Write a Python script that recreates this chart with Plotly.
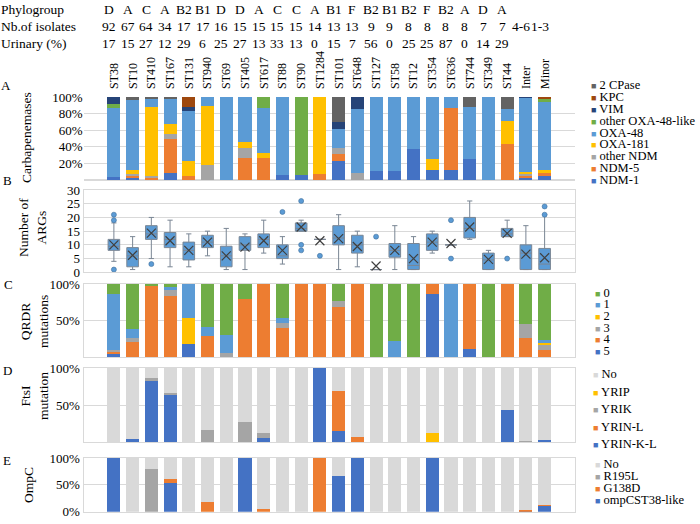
import plotly.graph_objects as go

# ---------------- data ----------------
categories = ["ST38", "ST10", "ST410", "ST167", "ST131", "ST940", "ST69", "ST405", "ST617", "ST88",
              "ST90", "ST1284", "ST101", "ST648", "ST127", "ST58", "ST12", "ST354", "ST636", "ST744",
              "ST349", "ST44", "Inter", "Minor"]

phylogroup = ["D", "A", "C", "A", "B2", "B1", "D", "D", "A", "C", "C", "A", "B1", "F", "B2", "B1", "B2",
              "F", "B2", "A", "D", "A", "", ""]
n_isolates = ["92", "67", "64", "34", "17", "17", "16", "15", "15", "15", "15", "14", "13", "13", "9", "9",
              "8", "8", "8", "8", "7", "7", "4-6", "1-3"]
urinary_pct = ["17", "15", "27", "12", "29", "6", "25", "27", "13", "33", "13", "0", "15", "7", "56", "0",
               "25", "25", "87", "0", "14", "29", "", ""]

# A: carbapenemases (% of isolates), bottom -> top
ndm1 = [4, 2, 0, 8, 0, 0, 0, 0, 0, 6, 6, 0, 23, 0, 11, 11, 37, 12, 12, 25, 0, 0, 2, 5]
ndm5 = [0, 3, 3, 42, 5, 0, 0, 26, 26, 0, 0, 7, 8, 0, 0, 0, 0, 0, 75, 0, 0, 43, 3, 3]
other_ndm = [0, 2, 2, 6, 0, 18, 0, 13, 0, 0, 0, 0, 8, 8, 0, 0, 0, 0, 0, 0, 0, 0, 2, 0]
oxa181 = [0, 5, 83, 11, 18, 71, 0, 7, 7, 0, 0, 93, 0, 0, 0, 0, 0, 13, 0, 0, 0, 28, 3, 4]
oxa48 = [83, 84, 10, 30, 60, 11, 100, 54, 54, 94, 0, 0, 23, 77, 89, 89, 63, 75, 13, 63, 100, 15, 89, 82]
other_oxa48 = [5, 0, 0, 0, 0, 0, 0, 0, 13, 0, 94, 0, 0, 0, 0, 0, 0, 0, 0, 0, 0, 0, 0, 3]
vim = [8, 0, 0, 0, 5, 0, 0, 0, 0, 0, 0, 0, 8, 15, 0, 0, 0, 0, 0, 0, 0, 0, 1, 0]
kpc = [0, 0, 0, 0, 12, 0, 0, 0, 0, 0, 0, 0, 0, 0, 0, 0, 0, 0, 0, 0, 0, 0, 0, 3]
two_cpase = [0, 4, 2, 3, 0, 0, 0, 0, 0, 0, 0, 0, 30, 0, 0, 0, 0, 0, 0, 12, 0, 14, 0, 0]

# B: number of ARGs (box statistics)
arg_q1 = [8, 2, 12, 9, 4.5, 9, 2, 8, 9, 5, 15, 12, 10, 7, 1, 5.5, 1, 8, 10, 12.5, 1, 13, 1, 1]
arg_median = [9.5, 6, 14, 12, 8, 11, 6, 10, 12, 6, 16, 12, 12.5, 10, 1, 8, 2.5, 11, 10, 16, 4.5, 14, 7, 3]
arg_q3 = [12, 9, 17, 14.5, 11, 13.5, 9.5, 13, 14, 10, 18, 12, 17, 13.5, 1, 10.5, 10.5, 14, 10, 20, 7, 16, 10, 8.7]
arg_low = [4, 1, 5, 2, 2, 6, 1, 1, 7, 3, 15, 12, 1, 2, 1, 1, 1, 7, 10, 12, 1, 13, 1, 1]
arg_high = [18, 13, 20, 19, 14, 15, 16, 14, 19, 13, 19, 12, 21, 15, 1, 17, 13, 15, 10, 26, 8, 19, 17, 21]
arg_mean = [10, 6.2, 14.3, 11.5, 8, 11, 6, 9.2, 11.5, 8, 16.5, 11.5, 12.3, 9.4, 2.3, 8, 5, 11, 10.5, 16.5,
            4.7, 14.2, 6.6, 5.3]
arg_outliers = {"ST38": [21, 19, 1], "ST410": [3], "ST88": [22], "ST90": [26, 10, 8], "ST1284": [6],
                "ST127": [13], "ST636": [19, 5], "ST44": [5], "Minor": [24, 21]}

# C: QRDR mutations (%), bottom -> top: 5,4,3,2,1,0
qrdr5 = [5, 0, 0, 0, 18, 0, 0, 0, 0, 0, 0, 0, 0, 0, 0, 0, 0, 87, 0, 12, 0, 0, 0, 0]
qrdr4 = [3, 21, 98, 83, 0, 29, 0, 80, 100, 40, 100, 100, 69, 100, 0, 0, 0, 13, 0, 88, 0, 100, 27, 10]
qrdr3 = [2, 5, 0, 9, 0, 0, 6, 0, 0, 7, 0, 0, 8, 0, 0, 0, 0, 0, 0, 0, 0, 0, 18, 8]
qrdr2 = [0, 0, 0, 0, 35, 0, 0, 0, 0, 0, 0, 0, 0, 0, 0, 0, 0, 0, 0, 0, 0, 0, 0, 1]
qrdr1 = [77, 13, 0, 4, 47, 12, 25, 0, 0, 7, 0, 0, 0, 0, 0, 22, 0, 0, 100, 0, 0, 0, 0, 5]
qrdr0 = [13, 61, 2, 4, 0, 59, 69, 20, 0, 46, 0, 0, 23, 0, 100, 78, 100, 0, 0, 0, 100, 0, 55, 76]

# D: FtsI mutation (%), bottom -> top
ftsi_yrinkl = [0, 5, 83, 64, 0, 0, 0, 0, 6, 0, 0, 100, 15, 0, 0, 0, 0, 0, 0, 0, 0, 43, 1, 3]
ftsi_yrinl = [0, 0, 0, 0, 0, 0, 0, 0, 0, 0, 0, 0, 54, 7, 0, 0, 0, 0, 0, 0, 0, 0, 0, 0]
ftsi_yrik = [0, 0, 4, 2, 0, 17, 0, 27, 6, 0, 0, 0, 0, 0, 0, 0, 0, 0, 0, 0, 0, 0, 1, 0]
ftsi_yrip = [0, 0, 0, 0, 0, 0, 0, 0, 0, 0, 0, 0, 0, 0, 0, 0, 0, 12, 0, 0, 0, 0, 0, 0]
ftsi_no = [100, 95, 13, 34, 100, 83, 100, 73, 88, 100, 100, 0, 31, 93, 100, 100, 100, 88, 100, 100, 100, 57, 98, 97]

# E: OmpC (%), bottom -> top
ompc_st38 = [100, 0, 0, 53, 0, 0, 0, 100, 0, 0, 0, 0, 66, 100, 0, 0, 0, 100, 0, 0, 0, 0, 1, 11]
ompc_g138d = [0, 0, 0, 8, 0, 18, 0, 0, 5, 0, 0, 100, 0, 0, 0, 0, 0, 0, 0, 0, 0, 0, 2, 2]
ompc_r195l = [0, 0, 79, 0, 0, 0, 0, 0, 0, 0, 0, 0, 0, 0, 0, 0, 0, 0, 0, 0, 0, 0, 0, 0]
ompc_no = [0, 100, 21, 39, 100, 82, 100, 0, 95, 100, 100, 0, 34, 0, 100, 100, 100, 0, 100, 100, 100, 100, 97, 87]

# ---------------- styling ----------------
W, H = 700, 524
FONT = "Liberation Serif, Times New Roman, serif"
BLUE, ORANGE, GREY, GOLD, LBLUE, GREEN = "#4472C4", "#ED7D31", "#A5A5A5", "#FFC000", "#5B9BD5", "#70AD47"
NAVY, BROWN, DGREY, LGREY = "#264478", "#9E480E", "#636363", "#D9D9D9"
GRID = "#D9D9D9"


def py(p):
    return 1 - p / H


def px(p):
    return p / W


fig = go.Figure()

panels = [
    ("x", "y", [("NDM-1", ndm1, BLUE), ("NDM-5", ndm5, ORANGE), ("other NDM", other_ndm, GREY),
                ("OXA-181", oxa181, GOLD), ("OXA-48", oxa48, LBLUE), ("other OXA-48-like", other_oxa48, GREEN),
                ("VIM", vim, NAVY), ("KPC", kpc, BROWN), ("2 CPase", two_cpase, DGREY)]),
    ("x3", "y3", [("5", qrdr5, BLUE), ("4", qrdr4, ORANGE), ("3", qrdr3, GREY), ("2", qrdr2, GOLD),
                  ("1", qrdr1, LBLUE), ("0", qrdr0, GREEN)]),
    ("x4", "y4", [("YRIN-K-L", ftsi_yrinkl, BLUE), ("YRIN-L", ftsi_yrinl, ORANGE), ("YRIK", ftsi_yrik, GREY),
                  ("YRIP", ftsi_yrip, GOLD), ("No", ftsi_no, LGREY)]),
    ("x5", "y5", [("ompCST38-like", ompc_st38, BLUE), ("G138D", ompc_g138d, ORANGE), ("R195L", ompc_r195l, GREY),
                  ("No", ompc_no, LGREY)]),
]

for xa, ya, series in panels:
    for name, vals, col in series:
        fig.add_trace(go.Bar(x=categories, y=vals, name=name, marker=dict(color=col, line=dict(width=0)),
                             xaxis=xa, yaxis=ya, showlegend=False))

# B: box plots
fig.add_trace(go.Box(x=categories, q1=arg_q1, median=arg_median, q3=arg_q3, lowerfence=arg_low,
                     upperfence=arg_high, xaxis="x2", yaxis="y2", fillcolor=LBLUE,
                     line=dict(color="#7A8694", width=1), width=0.62, whiskerwidth=0.45,
                     boxpoints=False, showlegend=False))
fig.add_trace(go.Scatter(x=categories, y=arg_mean, mode="markers", xaxis="x2", yaxis="y2",
                         marker=dict(symbol="x-thin-open", size=9, color="#404040",
                                     line=dict(color="#404040", width=1.2)),
                         showlegend=False))
out_x = [c for c in categories for _ in arg_outliers.get(c, [])]
out_y = [v for c in categories for v in arg_outliers.get(c, [])]
fig.add_trace(go.Scatter(x=out_x, y=out_y, mode="markers", xaxis="x2", yaxis="y2",
                         marker=dict(symbol="circle", size=5, color=LBLUE, line=dict(color="#41719C", width=0.6)),
                         showlegend=False))

# ---------------- axes ----------------
xdom = [px(83.5), px(575)]
tickfont = dict(family=FONT, size=13, color="#000")
layout_axes = {}
layout_axes["xaxis"] = dict(domain=xdom, anchor="y", side="top", type="category", categoryorder="array",
                            categoryarray=categories, tickangle=-90,
                            tickfont=dict(family=FONT, size=12, color="#000"), showgrid=False,
                            showline=False, ticks="", ticklabelstandoff=7, automargin=False)
for i in range(2, 6):
    layout_axes[f"xaxis{i}"] = dict(domain=xdom, anchor=f"y{i}", matches="x", type="category",
                                    showticklabels=False, ticks="", showgrid=False, automargin=False,
                                    showline=True, linecolor=GRID, mirror=True)

pct_vals_a = [20, 40, 60, 80, 100]
layout_axes["yaxis"] = dict(domain=[py(180), py(97)], anchor="x", range=[0, 100], automargin=False,
                            tickvals=pct_vals_a, ticktext=[f"{v}%" for v in pct_vals_a], tickfont=tickfont,
                            gridcolor=GRID, zeroline=True, zerolinecolor=GRID, showline=False, ticks="")
layout_axes["yaxis2"] = dict(domain=[py(272.3), py(190)], anchor="x2", range=[0, 30], dtick=5,
                             tickfont=tickfont, gridcolor=GRID, zeroline=False, showline=True,
                             linecolor=GRID, mirror=True, ticks="", automargin=False)
for i, (lo, hi, tv) in zip([3, 4, 5], [(357.3, 284, [50, 100]), (442.3, 368, [50, 100]),
                                       (511.7, 458, [0, 50, 100])]):
    layout_axes[f"yaxis{i}"] = dict(domain=[py(lo), py(hi)], anchor=f"x{i}", range=[0, 100], tickvals=tv,
                                    ticktext=[f"{v}%" for v in tv], tickfont=tickfont, gridcolor=GRID,
                                    zeroline=False, showline=True, linecolor=GRID, mirror=True, ticks="",
                                    automargin=False)

annotations = []


def ann(text, x, y, size=13, xanchor="left", textangle=0, color="#000", xref="paper", xshift=0):
    annotations.append(dict(text=text, x=x, y=y, xref=xref, yref="paper", xanchor=xanchor, yanchor="middle",
                            showarrow=False, textangle=textangle, xshift=xshift, borderpad=0,
                            font=dict(family=FONT, size=size, color=color)))


# header rows
for label, vals, ypos in [("Phylogroup", phylogroup, 9.5), ("Nb.of isolates", n_isolates, 26.5),
                          ("Urinary (%)", urinary_pct, 43.5)]:
    ann(label, 0, py(ypos), size=13.5)
    for c, v in zip(categories, vals):
        if v:
            ann(v, c, py(ypos), size=13.5, xanchor="center", xref="x", xshift=-5)

# panel letters
for letter, (lx, ly) in zip("ABCDE", [(6, 85), (7, 180), (8, 284), (7, 370), (7, 460)]):
    ann(letter, px(lx), py(ly), size=13, xanchor="center")

# y titles
for text, (tx, ty) in [("Carbapenemases", (27, 138)), ("Number of<br>ARGs", (33, 228)),
                       ("QRDR<br>mutations", (34, 322)), ("FtsI<br>mutation", (34, 396)),
                       ("OmpC", (28, 485))]:
    ann(text, px(tx), py(ty), size=13.5, xanchor="center", textangle=-90)

# legends (drawn as text: coloured square + label)
legends = [
    (panels[0][2], 590, 85, 11.9),
    (panels[1][2], 593.5, 292.7, 11.6),
    (panels[2][2], 592, 374, 17.5),
    (panels[3][2], 593.5, 464, 12.0),
]
for series, mx, y0, step in legends:
    for k, (name, _, col) in enumerate(reversed(series)):
        yy = py(y0 + k * step)
        ann(f'<span style="color:{col};font-size:9px">■</span> {name}', px(mx), yy, size=12.5)

fig.update_layout(width=W, height=H, margin=dict(l=0, r=0, t=0, b=0, autoexpand=False), autosize=False,
                  paper_bgcolor="white", plot_bgcolor="white", barmode="stack", bargap=0.3,
                  showlegend=False, annotations=annotations, font=dict(family=FONT, size=13), **layout_axes)

fig.write_html("out.html", config={"displayModeBar": False},
               post_script="document.body.style.margin='0';")
